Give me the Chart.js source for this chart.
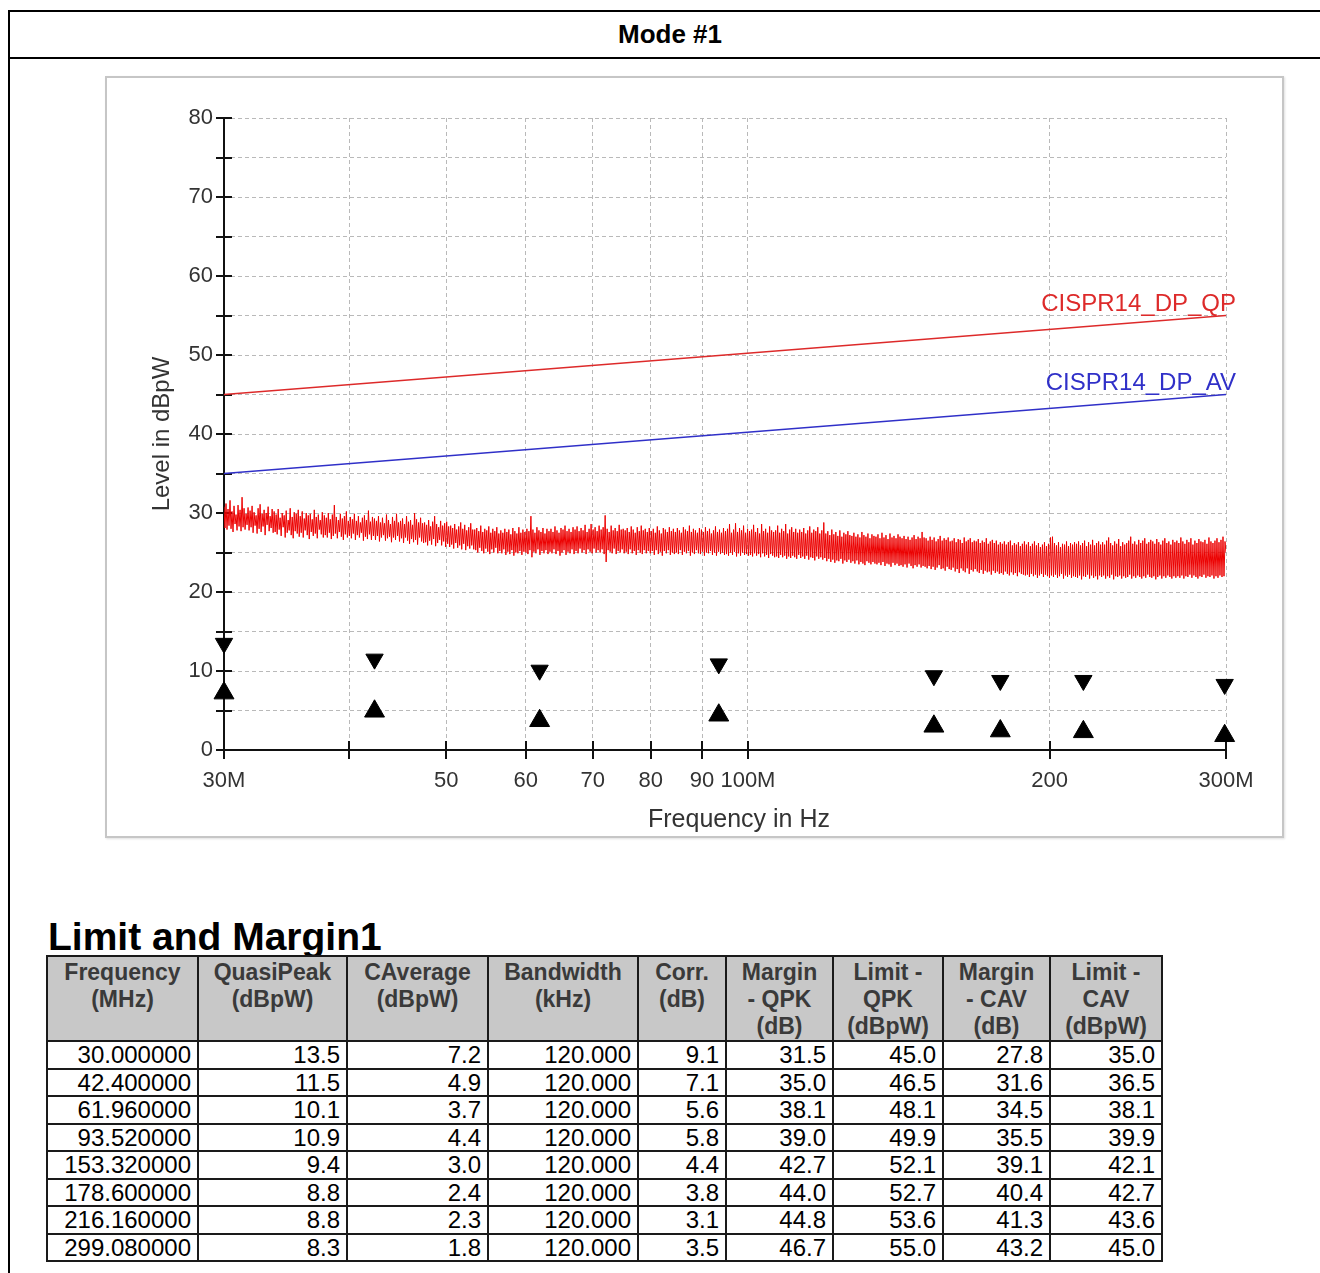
<!DOCTYPE html>
<html>
<head>
<meta charset="utf-8">
<title>Mode #1</title>
<script src="https://cdn.jsdelivr.net/npm/chart.js@4.4.1/dist/chart.umd.min.js"></script>
<style>
  html, body { margin: 0; padding: 0; background: #fff; }
  body { width: 1320px; height: 1273px; position: relative; overflow: hidden; font-family: "Liberation Sans", Arial, sans-serif; }
  .frame { position: absolute; left: 8px; top: 10px; width: 1400px; height: 1400px; border-left: 2px solid #000; border-top: 2px solid #000; }
  .mode-head { position: absolute; left: 10px; top: 12px; width: 1320px; height: 45px; line-height: 45px; border-bottom: 2px solid #000; text-align: center; font-weight: bold; font-size: 26px; color: #000; }
  .panel { position: absolute; left: 105px; top: 76px; width: 1179px; height: 762px; box-sizing: border-box; border: 2px solid #c6c6c6; box-shadow: 1px 1px 2px #e0e0e0; }
  .chart-box { position: absolute; left: 0; top: 0; width: 1175px; height: 758px; }
  .lm-title { position: absolute; left: 48px; top: 917px; font-weight: bold; font-size: 39px; line-height: 39px; color: #000; }
  table.lm { position: absolute; left: 46px; top: 955px; border-collapse: collapse; table-layout: fixed; width: 1115px; font-size: 24px; }
  table.lm th, table.lm td { border: 2px solid #1a1a1a; }
  table.lm th { background: #c8c8c8; color: #3a3a3a; font-weight: bold; font-size: 23px; line-height: 27px; height: 81px; vertical-align: top; text-align: center; padding: 2px 2px 0; }
  table.lm td { text-align: right; height: 25.5px; line-height: 25.5px; padding: 0 6px 0 0; color: #000; }
</style>
</head>
<body>
<div class="frame"></div>
<div class="mode-head">Mode #1</div>
<div class="panel">
  <div class="chart-box"><canvas id="scan"></canvas></div>
</div>
<div class="lm-title">Limit and Margin1</div>
<table class="lm" id="lm"></table>

<script>
// limit lines (straight in log frequency)
const limitFreqMHz = [30, 300];
const limitQP = [45, 55];
const limitAV = [35, 45];
const limitNames = ['CISPR14_DP_QP', 'CISPR14_DP_AV'];

// final measurement results
const finalFreqMHz = [30.0, 42.4, 61.96, 93.52, 153.32, 178.6, 216.16, 299.08];
const quasiPeak = [13.5, 11.5, 10.1, 10.9, 9.4, 8.8, 8.8, 8.3];
const cAverage = [7.2, 4.9, 3.7, 4.4, 3.0, 2.4, 2.3, 1.8];
const bandwidthKHz = [120, 120, 120, 120, 120, 120, 120, 120];
const corrDB = [9.1, 7.1, 5.6, 5.8, 4.4, 3.8, 3.1, 3.5];
const marginQPK = [31.5, 35.0, 38.1, 39.0, 42.7, 44.0, 44.8, 46.7];
const limitQPK = [45.0, 46.5, 48.1, 49.9, 52.1, 52.7, 53.6, 55.0];
const marginCAV = [27.8, 31.6, 34.5, 35.5, 39.1, 40.4, 41.3, 43.2];
const limitCAV = [35.0, 36.5, 38.1, 39.9, 42.1, 42.7, 43.6, 45.0];

// axis ticks
const xTickValues = [30, 40, 50, 60, 70, 80, 90, 100, 200, 300];
const xTickLabels = ['30M', '', '50', '60', '70', '80', '90', '100M', '200', '300M'];

// preview scan, 30 MHz .. 300 MHz, log-spaced sweep points
const sweepStartMHz = 30;
const sweepStopMHz = 300;
const scanLevel = [
  30.8, 28.1, 31.2, 27.9, 30.5, 28.4, 31.6, 28.0, 30.2, 27.6, 30.9, 28.6, 29.8, 27.8, 31.0, 28.3, 30.4, 27.7, 32.0, 28.2, 30.6, 27.9, 29.9, 28.5, 30.7,
  27.8, 30.3, 28.2, 30.9, 27.5, 30.1, 28.4, 29.7, 27.4, 30.6, 28.0, 31.1, 27.6, 29.9, 28.3, 30.4, 27.2, 30.0, 28.5, 30.8, 27.7, 29.6, 28.1, 30.5, 27.5,
  30.2, 27.6, 29.8, 27.3, 30.5, 27.9, 29.4, 27.1, 30.0, 28.2, 29.7, 26.9, 30.3, 27.5, 29.1, 27.8, 30.6, 27.2, 29.5, 26.8, 30.1, 27.7, 29.9, 27.4, 30.4,
  27.0, 29.6, 27.5, 30.2, 26.9, 29.3, 27.8, 30.0, 27.2, 29.7, 26.7, 29.9, 27.6, 29.2, 27.1, 30.4, 27.4, 29.5, 26.8, 29.8, 27.9, 29.1, 27.3, 30.1, 26.9,
  29.7, 27.2, 29.4, 26.9, 30.0, 27.5, 29.2, 26.7, 29.8, 27.1, 31.0, 27.4, 29.5, 26.8, 29.1, 27.6, 29.9, 27.0, 29.3, 26.6, 29.6, 27.3, 30.2, 26.9, 29.0,
  27.1, 29.5, 26.8, 29.2, 27.4, 29.9, 26.6, 29.0, 27.2, 29.6, 26.9, 28.8, 27.5, 29.4, 26.5, 29.7, 27.0, 29.1, 26.7, 30.3, 27.3, 28.9, 26.6, 29.5, 27.1,
  29.3, 26.6, 29.0, 27.1, 29.6, 26.4, 28.8, 26.9, 29.4, 27.2, 28.7, 26.5, 29.8, 26.8, 29.1, 27.0, 28.6, 26.3, 29.5, 26.9, 29.0, 26.6, 29.9, 27.1, 28.8,
  26.4, 29.0, 26.8, 29.3, 26.2, 28.6, 26.9, 29.6, 26.5, 28.9, 26.1, 29.1, 26.7, 28.5, 26.3, 30.0, 26.6, 29.2, 26.0, 28.8, 26.9, 29.4, 26.4, 28.7, 26.2,
  28.8, 26.3, 28.5, 25.9, 29.1, 26.5, 28.3, 26.0, 28.9, 26.7, 29.6, 25.8, 28.6, 26.2, 28.2, 26.6, 29.0, 25.9, 28.4, 26.4, 28.7, 25.7, 28.9, 26.1, 28.3,
  25.7, 28.4, 26.0, 28.1, 25.5, 28.6, 26.2, 27.9, 25.6, 28.3, 25.9, 28.8, 25.4, 28.0, 26.1, 28.5, 25.3, 27.8, 25.8, 28.2, 25.5, 28.7, 25.9, 27.9, 25.4,
  27.9, 25.3, 28.1, 25.0, 27.7, 25.6, 28.4, 25.2, 27.6, 24.9, 28.0, 25.5, 27.8, 25.1, 28.3, 24.8, 27.5, 25.4, 28.0, 25.0, 27.7, 25.6, 28.2, 24.9, 27.4,
  25.2, 27.8, 24.9, 27.5, 25.4, 28.0, 24.7, 27.6, 25.1, 27.9, 24.8, 27.3, 25.3, 28.1, 24.6, 27.7, 25.0, 27.4, 24.9, 28.2, 25.2, 27.5, 24.7, 27.9, 25.1,
  27.6, 25.0, 28.0, 24.8, 27.7, 25.3, 29.6, 24.4, 27.9, 25.1, 27.5, 24.9, 28.2, 25.4, 27.8, 24.7, 27.6, 25.2, 28.1, 24.9, 27.4, 25.3, 28.0, 24.8, 27.7,
  25.1, 28.0, 24.9, 27.6, 25.4, 28.3, 24.8, 27.8, 25.2, 27.5, 24.6, 28.1, 25.0, 27.9, 25.3, 28.4, 24.7, 27.7, 25.1, 28.0, 24.9, 27.6, 25.4, 28.2, 24.8,
  27.9, 25.2, 28.3, 24.9, 27.7, 25.5, 28.1, 25.0, 27.8, 25.3, 28.5, 24.8, 27.6, 25.4, 28.0, 25.1, 28.6, 24.9, 27.9, 25.5, 28.2, 25.0, 27.7, 25.3, 28.4,
  25.0, 27.9, 25.4, 28.2, 24.8, 29.7, 23.8, 28.0, 25.3, 27.6, 25.1, 28.4, 24.9, 27.8, 25.5, 28.1, 24.8, 27.7, 25.2, 28.5, 25.0, 27.9, 25.4, 28.0, 24.9,
  27.8, 25.1, 28.1, 24.8, 27.6, 25.4, 28.3, 24.9, 27.9, 25.2, 27.5, 24.7, 28.2, 25.3, 27.7, 25.0, 28.4, 24.8, 27.8, 25.3, 28.0, 24.9, 27.6, 25.2, 28.1,
  24.9, 27.7, 25.2, 28.0, 24.7, 27.5, 25.3, 28.3, 24.8, 27.8, 25.1, 27.4, 24.6, 28.1, 25.2, 27.9, 24.9, 27.6, 25.3, 28.2, 24.7, 27.7, 25.0, 28.0, 24.8,
  27.6, 25.0, 28.1, 24.8, 27.8, 25.3, 27.5, 24.7, 28.2, 25.1, 27.9, 24.9, 27.7, 25.2, 28.4, 24.6, 27.6, 25.0, 28.0, 24.8, 27.8, 25.3, 27.5, 24.9, 28.1,
  24.8, 27.9, 25.1, 27.6, 24.6, 28.2, 25.0, 27.7, 24.9, 28.0, 25.2, 27.4, 24.7, 27.8, 25.0, 28.3, 24.6, 27.6, 25.1, 27.9, 24.8, 27.5, 25.0, 28.1, 24.7,
  27.7, 24.8, 28.0, 24.6, 28.6, 25.0, 27.5, 24.7, 27.9, 25.1, 28.7, 24.5, 27.6, 24.9, 28.1, 24.6, 27.8, 25.0, 28.4, 24.7, 27.5, 24.8, 28.0, 24.6, 27.7,
  24.7, 27.9, 24.5, 28.5, 24.9, 27.6, 24.6, 28.1, 24.8, 27.4, 24.4, 28.6, 24.9, 27.7, 24.5, 28.0, 24.7, 27.5, 24.3, 28.3, 24.8, 27.8, 24.6, 27.6, 24.4,
  27.8, 24.5, 28.4, 24.3, 27.5, 24.7, 28.0, 24.4, 27.7, 24.6, 28.6, 24.2, 27.4, 24.5, 27.9, 24.3, 28.2, 24.6, 27.6, 24.4, 28.0, 24.2, 27.5, 24.7, 27.9,
  24.3, 27.6, 24.5, 28.1, 24.2, 27.4, 24.6, 27.8, 24.1, 28.3, 24.4, 27.5, 24.3, 27.9, 24.0, 27.7, 24.5, 28.2, 24.2, 27.4, 24.4, 27.8, 24.1, 28.8, 24.3,
  27.4, 23.9, 27.7, 24.2, 27.2, 23.8, 27.9, 24.1, 27.3, 23.7, 27.6, 24.0, 27.1, 23.9, 27.8, 24.2, 27.0, 23.6, 27.5, 24.0, 27.3, 23.8, 27.7, 24.1, 27.2,
  23.7, 27.1, 23.9, 27.5, 23.6, 27.0, 24.0, 27.3, 23.5, 26.9, 23.8, 27.6, 23.6, 27.2, 23.4, 27.0, 23.9, 27.4, 23.7, 26.8, 23.5, 27.3, 23.8, 27.1, 23.6,
  27.0, 23.5, 27.3, 23.7, 26.8, 23.4, 27.5, 23.8, 26.9, 23.3, 27.2, 23.6, 26.7, 23.5, 27.4, 23.2, 26.9, 23.7, 27.1, 23.4, 26.8, 23.6, 27.3, 23.3, 27.0,
  23.4, 26.8, 23.2, 27.1, 23.5, 26.7, 23.1, 27.0, 23.6, 26.6, 23.3, 26.9, 23.0, 27.2, 23.4, 26.7, 23.2, 27.0, 23.5, 26.8, 23.1, 27.6, 23.3, 26.9, 23.2,
  26.8, 23.0, 26.5, 23.3, 27.0, 22.9, 26.6, 23.2, 26.9, 22.8, 26.4, 23.1, 26.7, 23.4, 27.1, 22.9, 26.5, 23.0, 26.8, 22.7, 26.6, 23.2, 26.9, 22.9, 26.4,
  22.8, 26.5, 23.1, 26.8, 22.6, 26.3, 22.9, 26.7, 22.4, 26.6, 23.0, 26.2, 22.7, 26.9, 22.5, 26.4, 23.0, 26.6, 22.3, 26.8, 22.8, 26.3, 22.6, 26.5, 22.9,
  26.4, 22.6, 26.7, 22.4, 26.2, 22.8, 26.5, 22.3, 26.3, 22.7, 26.8, 22.5, 26.1, 22.6, 26.4, 22.2, 26.6, 22.7, 26.2, 22.4, 26.5, 22.6, 26.0, 22.3, 26.3,
  22.4, 26.1, 22.2, 26.4, 22.6, 26.0, 22.3, 26.3, 22.1, 26.5, 22.5, 25.9, 22.2, 26.2, 22.4, 26.0, 22.0, 26.3, 22.5, 25.8, 22.3, 26.1, 22.2, 26.4, 22.1,
  26.0, 22.2, 26.3, 21.9, 25.8, 22.3, 26.1, 22.0, 26.4, 22.2, 25.9, 21.8, 26.2, 22.1, 25.7, 22.3, 26.0, 21.9, 26.3, 22.2, 25.8, 22.0, 26.1, 21.8, 26.9,
  22.1, 27.0, 21.9, 26.2, 22.2, 25.9, 21.8, 26.3, 22.0, 25.7, 22.3, 26.1, 21.7, 26.0, 22.1, 26.4, 21.9, 25.8, 22.2, 26.2, 21.8, 26.0, 22.0, 26.3, 21.9,
  26.1, 21.8, 26.4, 22.1, 25.9, 21.6, 26.2, 22.0, 26.5, 21.9, 25.8, 22.2, 26.3, 21.7, 26.0, 22.1, 26.6, 21.8, 25.9, 22.0, 26.2, 21.6, 26.4, 22.1, 26.0,
  21.9, 26.3, 22.1, 26.0, 21.7, 26.5, 22.0, 26.9, 21.8, 26.2, 22.2, 25.9, 21.6, 26.4, 22.0, 26.1, 21.9, 26.7, 22.1, 25.8, 21.7, 26.3, 22.0, 26.0, 21.8,
  26.2, 21.9, 26.5, 22.2, 27.0, 21.7, 26.1, 22.0, 26.4, 21.8, 26.0, 22.1, 26.6, 21.9, 26.2, 21.7, 26.5, 22.0, 26.8, 21.8, 26.1, 22.2, 26.3, 21.9, 26.6,
  21.8, 26.4, 22.0, 26.1, 21.6, 26.7, 21.9, 26.3, 22.1, 26.0, 21.7, 26.5, 22.0, 26.8, 21.8, 26.2, 22.1, 26.4, 21.9, 26.0, 21.7, 26.6, 22.0, 26.3, 21.8,
  26.5, 22.0, 26.2, 21.8, 26.9, 22.1, 26.4, 21.7, 26.1, 22.0, 26.6, 21.9, 26.3, 22.2, 26.8, 21.8, 26.0, 22.1, 26.5, 21.9, 26.2, 21.7, 26.7, 22.0, 26.4,
  21.9, 26.3, 22.2, 26.6, 21.8, 26.1, 22.0, 26.9, 21.9, 26.4, 22.1, 26.2, 21.7, 26.5, 22.0, 26.8, 21.8, 26.3, 22.1, 26.6, 21.9, 27.0, 22.0, 26.4, 25.0
];

const FONT = '"Liberation Sans", Arial, sans-serif';
const TEXT = '#333333';
const qpColor = '#dd2a2a';
const avColor = '#3030c8';

const sweepDecades = Math.log10(sweepStopMHz / sweepStartMHz);
const scanPoints = scanLevel.map((v, i) => ({
  x: sweepStartMHz * Math.pow(10, sweepDecades * i / (scanLevel.length - 1)),
  y: v
}));
const toXY = (xs, ys) => xs.map((f, i) => ({ x: f, y: ys[i] }));

// axis lines with ticks crossing the axis, and the x title
const axisFrame = {
  id: 'axisFrame',
  beforeDatasetsDraw(chart) {
    const { ctx, chartArea: a, scales: { x, y } } = chart;
    ctx.save();
    ctx.strokeStyle = '#111';
    ctx.lineWidth = 2;
    ctx.beginPath();
    ctx.moveTo(a.left, a.top);
    ctx.lineTo(a.left, a.bottom);
    ctx.lineTo(a.right, a.bottom);
    y.ticks.forEach(t => {
      const py = Math.round(y.getPixelForValue(t.value));
      ctx.moveTo(a.left - 8, py);
      ctx.lineTo(a.left + 8, py);
    });
    xTickValues.forEach(v => {
      const px = Math.round(x.getPixelForValue(v));
      ctx.moveTo(px, a.bottom - 9);
      ctx.lineTo(px, a.bottom + 9);
    });
    ctx.stroke();
    ctx.fillStyle = TEXT;
    ctx.font = '25px ' + FONT;
    ctx.textAlign = 'center';
    ctx.textBaseline = 'middle';
    ctx.fillText('Frequency in Hz', (a.left + a.right) / 2 + 14, a.bottom + 70);
    ctx.restore();
  }
};

// names of the limit lines at their right end
const limitLabels = {
  id: 'limitLabels',
  afterDatasetsDraw(chart) {
    const { ctx, scales: { x, y } } = chart;
    const fEnd = limitFreqMHz[limitFreqMHz.length - 1];
    const xr = x.getPixelForValue(fEnd) + 10;
    ctx.save();
    ctx.font = '24px ' + FONT;
    ctx.textAlign = 'right';
    ctx.textBaseline = 'alphabetic';
    ctx.fillStyle = qpColor;
    ctx.fillText(limitNames[0], xr, y.getPixelForValue(limitQP[limitQP.length - 1]) - 5);
    ctx.fillStyle = avColor;
    ctx.fillText(limitNames[1], xr, y.getPixelForValue(limitAV[limitAV.length - 1]) - 5);
    ctx.restore();
  }
};

Chart.defaults.font.family = FONT;

new Chart(document.getElementById('scan'), {
  type: 'line',
  data: {
    datasets: [
      {
        label: 'QuasiPeak',
        data: toXY(finalFreqMHz, quasiPeak),
        showLine: false,
        pointStyle: 'triangle',
        pointRotation: 180,
        pointRadius: 10,
        pointBackgroundColor: '#000',
        pointBorderColor: '#000',
        pointBorderWidth: 1,
        clip: false,
        order: 0
      },
      {
        label: 'CAverage',
        data: toXY(finalFreqMHz, cAverage),
        showLine: false,
        pointStyle: 'triangle',
        pointRadius: 11.5,
        pointBackgroundColor: '#000',
        pointBorderColor: '#000',
        pointBorderWidth: 1,
        clip: false,
        order: 0
      },
      {
        label: limitNames[0],
        data: toXY(limitFreqMHz, limitQP),
        borderColor: qpColor,
        borderWidth: 1.5,
        pointRadius: 0,
        order: 1
      },
      {
        label: limitNames[1],
        data: toXY(limitFreqMHz, limitAV),
        borderColor: avColor,
        borderWidth: 1.5,
        pointRadius: 0,
        order: 1
      },
      {
        label: 'Preview',
        data: scanPoints,
        borderColor: '#ec0000',
        borderWidth: 1,
        pointRadius: 0,
        order: 2
      }
    ]
  },
  options: {
    responsive: true,
    maintainAspectRatio: false,
    animation: false,
    events: [],
    layout: { padding: { left: 0, top: 40, right: 56, bottom: 0 } },
    plugins: {
      legend: { display: false },
      tooltip: { enabled: false }
    },
    scales: {
      x: {
        type: 'logarithmic',
        min: sweepStartMHz,
        max: sweepStopMHz,
        afterBuildTicks: (scale) => { scale.ticks = xTickValues.map(v => ({ value: v })); },
        afterFit: (scale) => { scale.height = 86; },
        ticks: {
          autoSkip: false,
          maxRotation: 0,
          padding: 18,
          color: TEXT,
          font: { size: 22 },
          callback: (v, i) => xTickLabels[i]
        },
        grid: { color: '#b9b9b9', lineWidth: 1, drawTicks: false },
        border: { display: false, dash: [4, 3] }
      },
      y: {
        min: 0,
        max: 80,
        afterFit: (scale) => { scale.width = 117; },
        ticks: {
          stepSize: 5,
          padding: 11,
          color: TEXT,
          font: { size: 22 },
          callback: (v) => (v % 10 === 0 ? String(v) : '')
        },
        grid: { color: '#b9b9b9', lineWidth: 1, drawTicks: false },
        border: { display: false, dash: [4, 3] },
        title: {
          display: true,
          text: 'Level in dBpW',
          color: TEXT,
          font: { size: 24 },
          padding: { top: 41, bottom: 0 }
        }
      }
    }
  },
  plugins: [axisFrame, limitLabels]
});

// result table
const headers = [
  'Frequency<br>(MHz)', 'QuasiPeak<br>(dBpW)', 'CAverage<br>(dBpW)', 'Bandwidth<br>(kHz)', 'Corr.<br>(dB)',
  'Margin<br>- QPK<br>(dB)', 'Limit -<br>QPK<br>(dBpW)', 'Margin<br>- CAV<br>(dB)', 'Limit -<br>CAV<br>(dBpW)'
];
const colWidths = [151, 149, 141, 150, 88, 107, 110, 107, 112];
let html = '<colgroup>' + colWidths.map(w => `<col style="width:${w}px">`).join('') + '</colgroup>';
html += '<tr>' + headers.map(h => `<th>${h}</th>`).join('') + '</tr>';
finalFreqMHz.forEach((f, i) => {
  const cells = [
    f.toFixed(6), quasiPeak[i].toFixed(1), cAverage[i].toFixed(1), bandwidthKHz[i].toFixed(3), corrDB[i].toFixed(1),
    marginQPK[i].toFixed(1), limitQPK[i].toFixed(1), marginCAV[i].toFixed(1), limitCAV[i].toFixed(1)
  ];
  html += '<tr>' + cells.map(c => `<td>${c}</td>`).join('') + '</tr>';
});
document.getElementById('lm').innerHTML = html;
</script>
</body>
</html>
